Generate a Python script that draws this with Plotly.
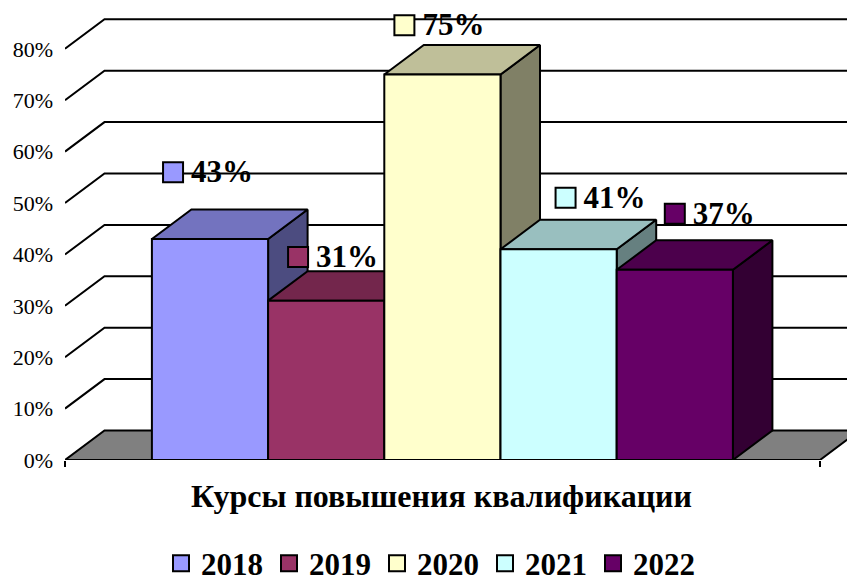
import plotly.graph_objects as go

# --- data ---
years = ["2018", "2019", "2020", "2021", "2022"]
values = [43, 31, 75, 41, 37]
value_labels = ["43%", "31%", "75%", "41%", "37%"]
y_ticks = [0, 10, 20, 30, 40, 50, 60, 70, 80]
y_tick_labels = ["0%", "10%", "20%", "30%", "40%", "50%", "60%", "70%", "80%"]
category_title = "Курсы повышения квалификации"

# --- style ---
colors = [(153, 153, 255), (153, 51, 102), (255, 255, 204), (204, 255, 255), (102, 0, 102)]
label_dx = [-0.318, -0.242, -0.327, 0.06, 0.0]
label_dy = [13.0, 8.5, 9.6, 10.0, 10.9]
FONT = "Liberation Serif"
FIG_W, FIG_H = 847, 581
X_UNIT = 116.2
Y_UNIT = 5.14
PLOT_L, PLOT_R, PLOT_B = 65, FIG_W, 460
X0 = 210
x_lo = (PLOT_L - X0) / X_UNIT
x_hi = (PLOT_R - X0) / X_UNIT
x_tick_right = (820 - X0) / X_UNIT
DX = 39.5 / X_UNIT
DY = 29.5 / Y_UNIT
HALF = 0.5
TEXT_DX = 0.155
TEXT_DY = -0.4


def shade(c, k):
    return "rgb(%d,%d,%d)" % tuple(round(v * k) for v in c)


def poly(xs, ys, fill, name=""):
    return go.Scatter(x=xs, y=ys, mode="lines", fill="toself", fillcolor=fill,
                      line=dict(color="black", width=2), showlegend=False,
                      hoverinfo="skip", cliponaxis=False, name=name)


fig = go.Figure()

# gridlines on the wall
gx, gy = [], []
for t in y_ticks[1:]:
    gx += [x_lo, x_lo + DX, x_tick_right + DX, None]
    gy += [t, t + DY, t + DY, None]
fig.add_trace(go.Scatter(x=gx, y=gy, mode="lines", line=dict(color="black", width=2),
                         showlegend=False, hoverinfo="skip", cliponaxis=False))

# floor
fig.add_trace(poly([x_lo, x_lo + DX, x_tick_right + DX, x_tick_right, x_lo],
                   [0, DY, DY, 0, 0], "rgb(128,128,128)", "floor"))

# bars, left to right
for i, (v, c) in enumerate(zip(values, colors)):
    l, r = i - HALF, i + HALF
    fig.add_trace(poly([r, r + DX, r + DX, r, r], [0, DY, v + DY, v, 0], shade(c, 0.5)))
    fig.add_trace(poly([l, l + DX, r + DX, r, l], [v, v + DY, v + DY, v, v], shade(c, 0.75)))
    fig.add_trace(poly([l, r, r, l, l], [0, 0, v, v, 0], shade(c, 1)))

# data labels and legend keys
for i, (yr, v, lab, c) in enumerate(zip(years, values, value_labels, colors)):
    lx, ly = i + label_dx[i], v + label_dy[i]
    fig.add_trace(go.Scatter(x=[lx], y=[ly], mode="markers", name=yr,
                             marker=dict(symbol="square", size=20, color=shade(c, 1),
                                         line=dict(color="black", width=2)),
                             cliponaxis=False, hoverinfo="skip"))
    fig.add_trace(go.Scatter(x=[lx + TEXT_DX], y=[ly + TEXT_DY], mode="text", text=[lab],
                             textposition="middle right", showlegend=False,
                             textfont=dict(family=FONT, size=31, color="black", weight="bold"),
                             cliponaxis=False, hoverinfo="skip"))

fig.update_layout(
    template="none",
    width=FIG_W, height=FIG_H, autosize=False,
    margin=dict(l=PLOT_L, r=FIG_W - PLOT_R, t=0, b=FIG_H - PLOT_B, pad=0),
    paper_bgcolor="white", plot_bgcolor="white",
    font=dict(family=FONT, color="black"),
    xaxis=dict(range=[x_lo, x_hi], showgrid=False, zeroline=False, showline=False, automargin=False,
               tickmode="array", tickvals=[x_lo, x_tick_right], ticktext=["", ""],
               ticks="outside", ticklen=6, tickwidth=2, tickcolor="black"),
    yaxis=dict(range=[0, PLOT_B / Y_UNIT], showgrid=False, zeroline=False, showline=False, automargin=False,
               tickmode="array", tickvals=y_ticks, ticktext=y_tick_labels, ticks="",
               ticklabelstandoff=11, tickfont=dict(family=FONT, size=22, color="black")),
    legend=dict(orientation="h", xref="container", yref="container",
                x=161 / FIG_W, xanchor="left",
                y=(FIG_H - 563.5) / FIG_H, yanchor="middle",
                entrywidth=63, entrywidthmode="pixels",
                itemwidth=30, itemsizing="trace", tracegroupgap=0, bgcolor="rgba(0,0,0,0)",
                font=dict(family=FONT, size=31, color="black", weight="bold")),
    annotations=[dict(text="<b>%s</b>" % category_title, xref="paper", yref="paper",
                      x=(441.5 - PLOT_L) / (PLOT_R - PLOT_L), y=(PLOT_B - 496) / PLOT_B,
                      xanchor="center", yanchor="middle", showarrow=False,
                      font=dict(family=FONT, size=32, color="black"))],
)

fig.write_html("out.html", post_script="document.body.style.margin='0';",
               config={"displayModeBar": False})
